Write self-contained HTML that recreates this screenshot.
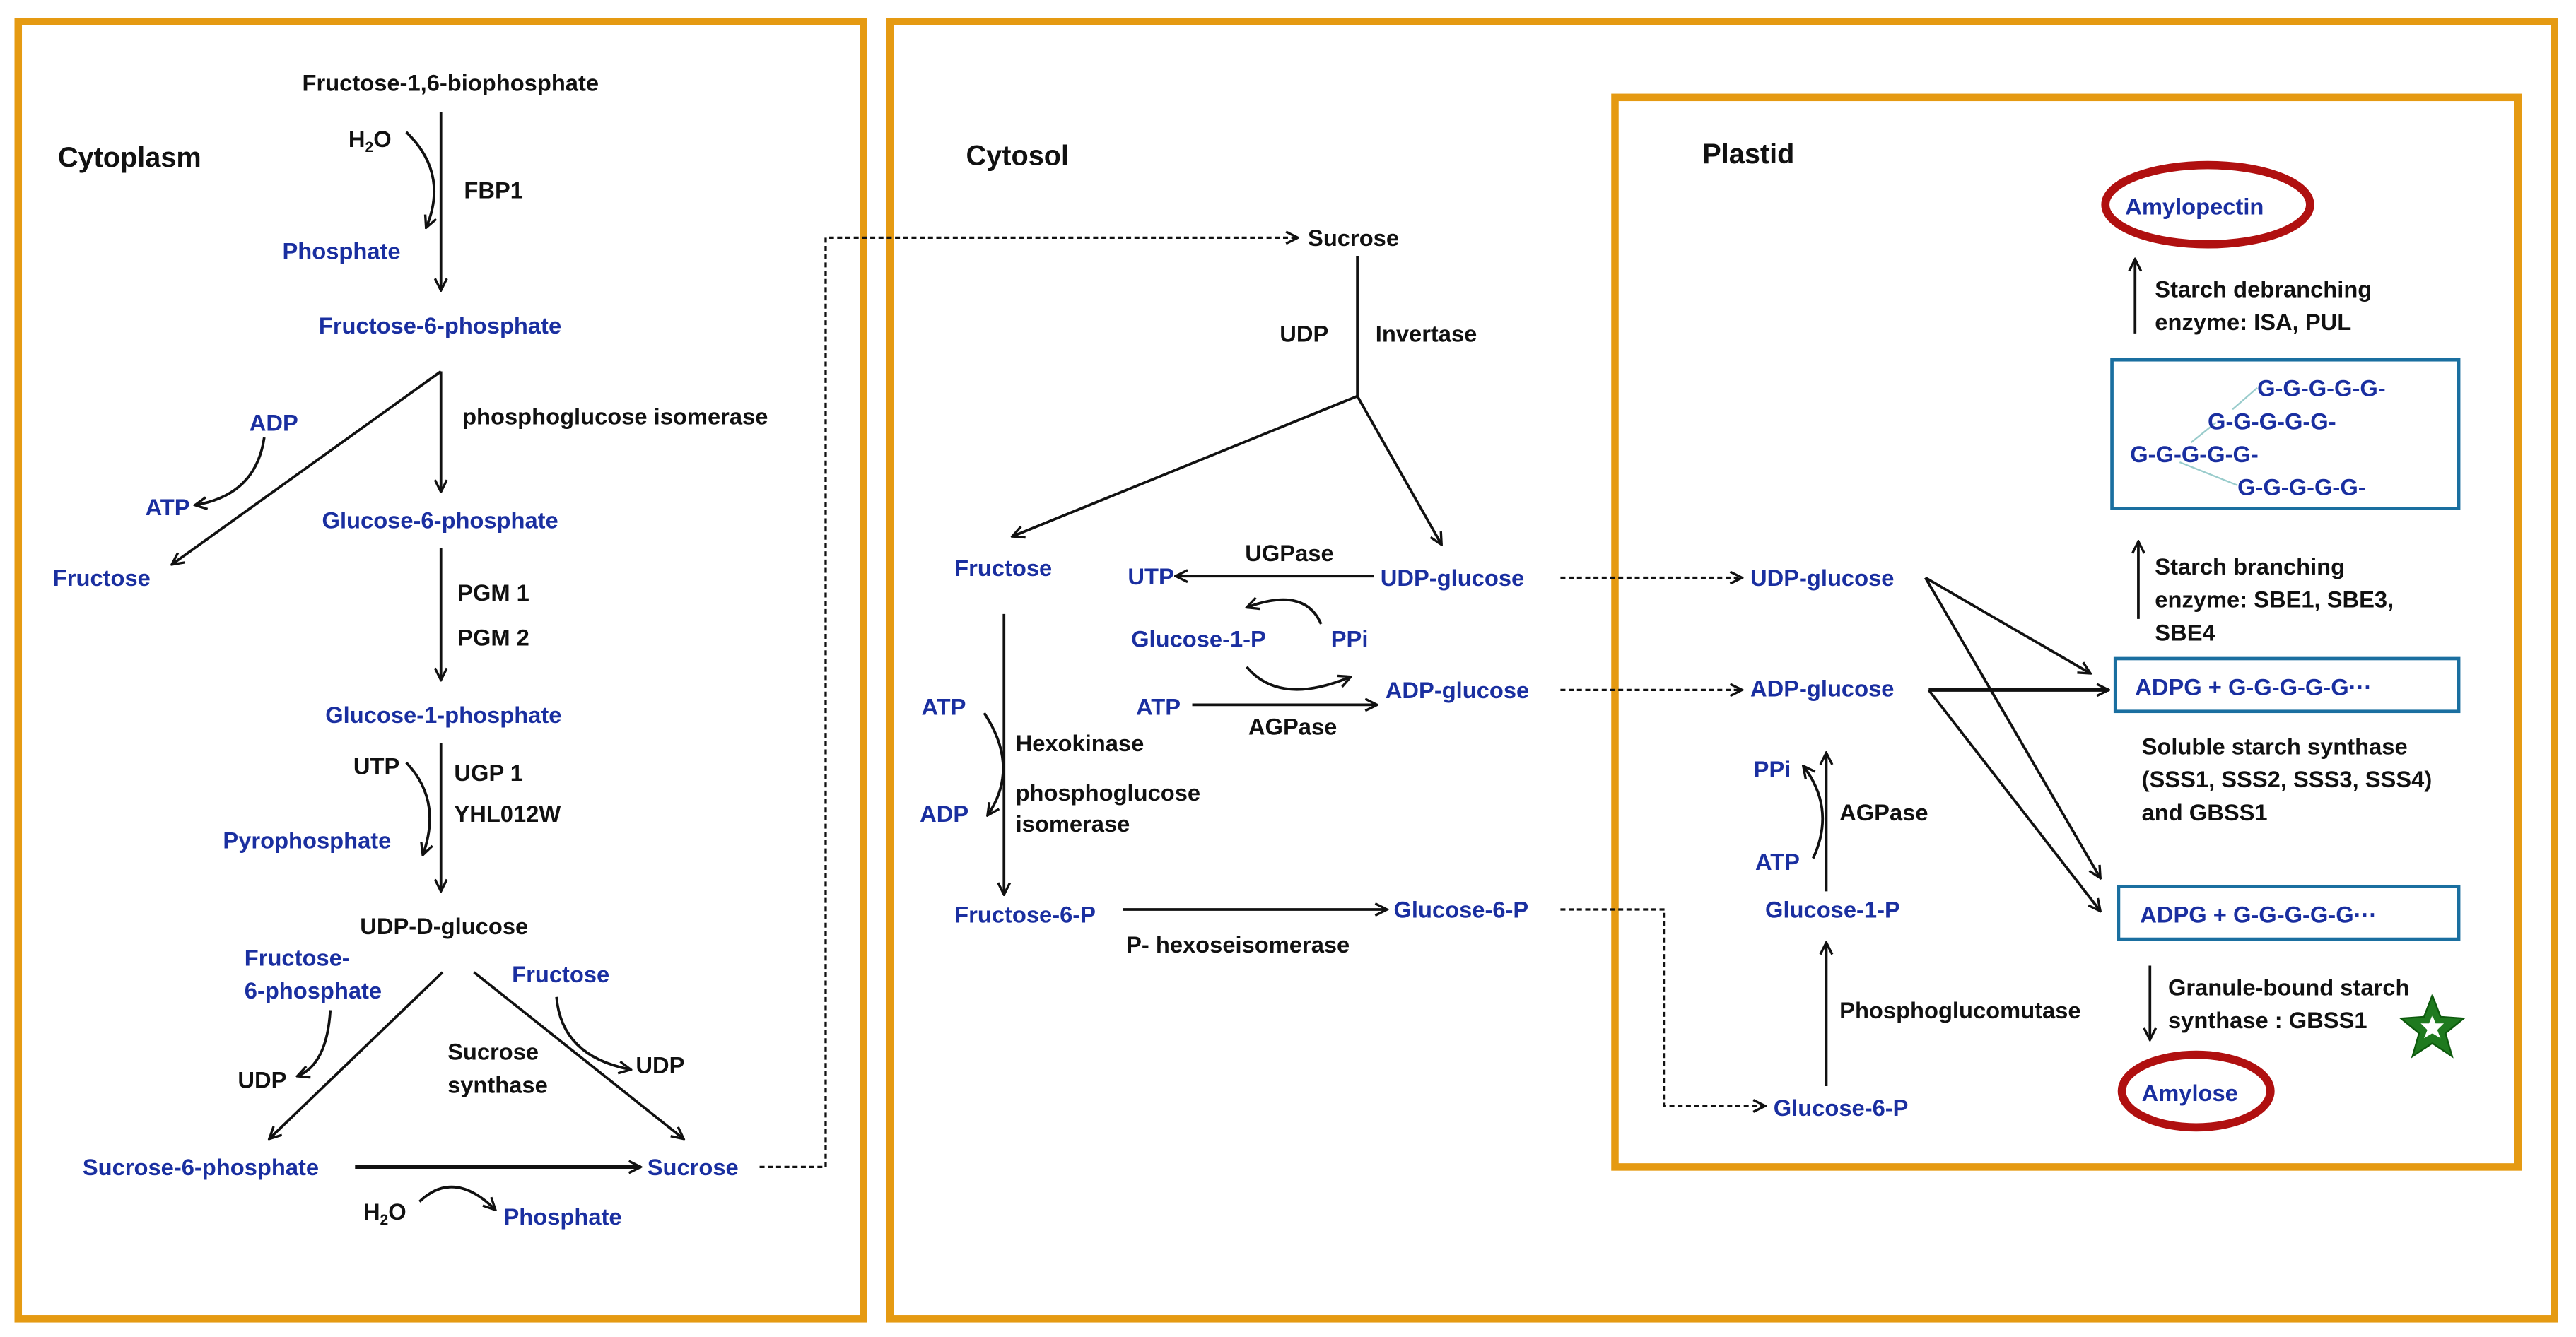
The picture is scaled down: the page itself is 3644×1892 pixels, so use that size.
<!DOCTYPE html>
<html><head><meta charset="utf-8"><style>
html,body{margin:0;padding:0;background:#fff}
svg{display:block}
text{font-family:"Liberation Sans",Arial,sans-serif;font-weight:bold;font-size:14px;fill:#111}
.b{fill:#1a2fa0}
.h{font-size:17px}
.g{font-size:14px;fill:#1a2fa0}
</style></head><body>
<svg width="3644" height="1892" viewBox="0 0 1560 810" xmlns="http://www.w3.org/2000/svg">
<defs>
<marker id="a" viewBox="0 0 10 10" refX="9" refY="5" markerWidth="9" markerHeight="9" orient="auto-start-reverse" markerUnits="userSpaceOnUse"><path d="M1,1 L9,5 L1,9" fill="none" stroke="#111" stroke-width="1.6"/></marker>
</defs>
<g fill="none" stroke="#E59A12" stroke-width="4.5">
<rect x="11" y="13" width="512" height="786"/>
<rect x="539" y="13" width="1008" height="786"/>
<rect x="978" y="59" width="547" height="648"/>
</g>
<g fill="none" stroke="#111" stroke-width="1.6">
<line x1="267" y1="68" x2="267" y2="176" marker-end="url(#a)"/>
<path d="M246,80 Q272,105 258,138" marker-end="url(#a)"/>
<line x1="267" y1="225" x2="267" y2="298" marker-end="url(#a)"/>
<line x1="267" y1="225" x2="104" y2="342" marker-end="url(#a)"/>
<path d="M160,265 Q155,300 118,306" marker-end="url(#a)"/>
<line x1="267" y1="332" x2="267" y2="412" marker-end="url(#a)"/>
<line x1="267" y1="450" x2="267" y2="540" marker-end="url(#a)"/>
<path d="M246,462 Q268,485 256,518" marker-end="url(#a)"/>
<line x1="268" y1="589" x2="163" y2="690" marker-end="url(#a)"/>
<path d="M200,612 Q198,645 180,652" marker-end="url(#a)"/>
<line x1="287" y1="589" x2="414" y2="690" marker-end="url(#a)"/>
<path d="M337,604 Q340,640 382,648" marker-end="url(#a)"/>
<line x1="215" y1="707" x2="388" y2="707" stroke-width="2.2" marker-end="url(#a)"/>
<path d="M254,728 Q275,708 300,733" marker-end="url(#a)"/>
<line x1="822" y1="155" x2="822" y2="240"/>
<line x1="822" y1="240" x2="613" y2="325" marker-end="url(#a)"/>
<line x1="822" y1="240" x2="873" y2="330" marker-end="url(#a)"/>
<line x1="832" y1="349" x2="712" y2="349" marker-end="url(#a)"/>
<path d="M800,378 Q790,355 755,368" marker-end="url(#a)"/>
<path d="M755,404 Q775,428 818,410" marker-end="url(#a)"/>
<line x1="722" y1="427" x2="834" y2="427" marker-end="url(#a)"/>
<line x1="608" y1="372" x2="608" y2="542" marker-end="url(#a)"/>
<path d="M596,432 Q618,465 598,494" marker-end="url(#a)"/>
<line x1="680" y1="551" x2="840" y2="551" marker-end="url(#a)"/>
<line x1="1106" y1="540" x2="1106" y2="456" marker-end="url(#a)"/>
<line x1="1106" y1="658" x2="1106" y2="571" marker-end="url(#a)"/>
<path d="M1098,520 Q1112,490 1092,464" marker-end="url(#a)"/>
<line x1="1166" y1="350" x2="1266" y2="408" marker-end="url(#a)"/>
<line x1="1166" y1="350" x2="1272" y2="532" marker-end="url(#a)"/>
<line x1="1168" y1="418" x2="1277" y2="418" stroke-width="2.2" marker-end="url(#a)"/>
<line x1="1168" y1="418" x2="1272" y2="552" marker-end="url(#a)"/>
<line x1="1295" y1="375" x2="1295" y2="328" marker-end="url(#a)"/>
<line x1="1293" y1="202" x2="1293" y2="157" marker-end="url(#a)"/>
<line x1="1302" y1="585" x2="1302" y2="630" marker-end="url(#a)"/>
</g>
<g fill="none" stroke="#111" stroke-width="1.4" stroke-dasharray="3,2">
<polyline points="460,707 500,707 500,144 786,144" marker-end="url(#a)"/>
<line x1="945" y1="350" x2="1055" y2="350" marker-end="url(#a)"/>
<line x1="945" y1="418" x2="1055" y2="418" marker-end="url(#a)"/>
<polyline points="945,551 1008,551 1008,670 1069,670" marker-end="url(#a)"/>
</g>
<g fill="none" stroke="#1a6fa0" stroke-width="2">
<rect x="1279" y="218" width="210" height="90"/>
<rect x="1281" y="399" width="208" height="32"/>
<rect x="1283" y="537" width="206" height="32"/>
</g>
<g stroke="#9cc" stroke-width="1" fill="none">
<line x1="1367" y1="235" x2="1352" y2="248"/>
<line x1="1342" y1="256" x2="1327" y2="268"/>
<line x1="1320" y1="280" x2="1355" y2="294"/>
</g>
<g fill="none" stroke="#b01010" stroke-width="5">
<ellipse cx="1337" cy="124" rx="62" ry="24"/>
<ellipse cx="1330" cy="661" rx="45" ry="22"/>
</g>
<polygon points="1473,603 1478,616 1492,617 1481,626 1485,640 1473,632 1461,640 1465,626 1454,617 1468,616" fill="#1f7a1f" stroke="#0d5a0d" stroke-width="1"/>
<polygon points="1473,615 1475,620 1480,620 1476,624 1478,629 1473,626 1468,629 1470,624 1466,620 1471,620" fill="#fff"/>
<text x="183" y="55">Fructose-1,6-biophosphate</text>
<text x="35" y="101" class="h">Cytoplasm</text>
<text x="211" y="89">H<tspan font-size="9" dy="3">2</tspan><tspan dy="-3">O</tspan></text>
<text x="281" y="120">FBP1</text>
<text x="171" y="157" class="b">Phosphate</text>
<text x="193" y="202" class="b">Fructose-6-phosphate</text>
<text x="280" y="257">phosphoglucose isomerase</text>
<text x="151" y="261" class="b">ADP</text>
<text x="88" y="312" class="b">ATP</text>
<text x="32" y="355" class="b">Fructose</text>
<text x="195" y="320" class="b">Glucose-6-phosphate</text>
<text x="277" y="364">PGM 1</text>
<text x="277" y="391">PGM 2</text>
<text x="197" y="438" class="b">Glucose-1-phosphate</text>
<text x="214" y="469">UTP</text>
<text x="275" y="473">UGP 1</text>
<text x="275" y="498">YHL012W</text>
<text x="135" y="514" class="b">Pyrophosphate</text>
<text x="218" y="566">UDP-D-glucose</text>
<text x="148" y="585" class="b">Fructose-</text>
<text x="148" y="605" class="b">6-phosphate</text>
<text x="310" y="595" class="b">Fructose</text>
<text x="271" y="642">Sucrose</text>
<text x="271" y="662">synthase</text>
<text x="144" y="659">UDP</text>
<text x="385" y="650">UDP</text>
<text x="50" y="712" class="b">Sucrose-6-phosphate</text>
<text x="392" y="712" class="b">Sucrose</text>
<text x="220" y="739">H<tspan font-size="9" dy="3">2</tspan><tspan dy="-3">O</tspan></text>
<text x="305" y="742" class="b">Phosphate</text>
<text x="585" y="100" class="h">Cytosol</text>
<text x="792" y="149">Sucrose</text>
<text x="775" y="207">UDP</text>
<text x="833" y="207">Invertase</text>
<text x="578" y="349" class="b">Fructose</text>
<text x="683" y="354" class="b">UTP</text>
<text x="754" y="340">UGPase</text>
<text x="836" y="355" class="b">UDP-glucose</text>
<text x="685" y="392" class="b">Glucose-1-P</text>
<text x="806" y="392" class="b">PPi</text>
<text x="688" y="433" class="b">ATP</text>
<text x="756" y="445">AGPase</text>
<text x="839" y="423" class="b">ADP-glucose</text>
<text x="558" y="433" class="b">ATP</text>
<text x="615" y="455">Hexokinase</text>
<text x="557" y="498" class="b">ADP</text>
<text x="615" y="485">phosphoglucose</text>
<text x="615" y="504">isomerase</text>
<text x="578" y="559" class="b">Fructose-6-P</text>
<text x="844" y="556" class="b">Glucose-6-P</text>
<text x="682" y="577">P- hexoseisomerase</text>
<text x="1031" y="99" class="h">Plastid</text>
<text x="1060" y="355" class="b">UDP-glucose</text>
<text x="1060" y="422" class="b">ADP-glucose</text>
<text x="1062" y="471" class="b">PPi</text>
<text x="1114" y="497">AGPase</text>
<text x="1063" y="527" class="b">ATP</text>
<text x="1069" y="556" class="b">Glucose-1-P</text>
<text x="1114" y="617">Phosphoglucomutase</text>
<text x="1074" y="676" class="b">Glucose-6-P</text>
<text x="1287" y="130" class="b">Amylopectin</text>
<text x="1305" y="180">Starch debranching</text>
<text x="1305" y="200">enzyme: ISA, PUL</text>
<text x="1367" y="240" class="g">G-G-G-G-G-</text>
<text x="1337" y="260" class="g">G-G-G-G-G-</text>
<text x="1290" y="280" class="g">G-G-G-G-G-</text>
<text x="1355" y="300" class="g">G-G-G-G-G-</text>
<text x="1305" y="348">Starch branching</text>
<text x="1305" y="368">enzyme: SBE1, SBE3,</text>
<text x="1305" y="388">SBE4</text>
<text x="1293" y="421" class="b">ADPG + G-G-G-G-G···</text>
<text x="1297" y="457">Soluble starch synthase</text>
<text x="1297" y="477">(SSS1, SSS2, SSS3, SSS4)</text>
<text x="1297" y="497">and GBSS1</text>
<text x="1296" y="559" class="b">ADPG + G-G-G-G-G···</text>
<text x="1313" y="603">Granule-bound starch</text>
<text x="1313" y="623">synthase : GBSS1</text>
<text x="1297" y="667" class="b">Amylose</text>
</svg>
</body></html>
